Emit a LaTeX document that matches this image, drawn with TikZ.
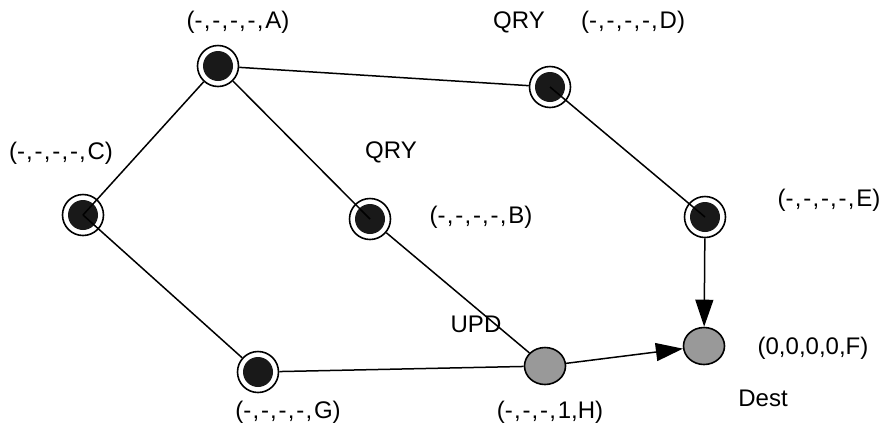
\documentclass[tikz,border=0pt]{standalone}
\usepackage{fontspec}
\setmainfont{Liberation Sans}
\usetikzlibrary{arrows.meta,shapes.geometric}
\newcommand{\dc}{-\kern1.2pt,\kern1.8pt}
\begin{document}
\begin{tikzpicture}[x=1pt,y=-1pt,
  peer/.style={circle,draw,line width=1.6pt,minimum size=41pt,inner sep=0pt,fill=white,
    path picture={\fill[black!90] (path picture bounding box.center) circle (15pt);}},
  dest/.style={ellipse,draw,line width=1.6pt,fill=black!40,minimum width=41pt,minimum height=37pt,inner sep=0pt},
  lbl/.style={font=\fontsize{24}{28}\selectfont,inner sep=0pt},
  edge/.style={line width=1.5pt},
  arr/.style={line width=1.5pt,-{Triangle[length=27pt,width=18pt]}}]
\useasboundingbox (0,0) rectangle (896,432);
% nodes
\node[peer] (A) at (218,66) {};
\node[peer] (D) at (550,87) {};
\node[peer] (C) at (83,215) {};
\node[peer] (B) at (370,219) {};
\node[peer] (E) at (705,217) {};
\node[peer] (G) at (258,372) {};
\node[dest] (H) at (545,366) {};
\node[dest] (F) at (704,346) {};
% edges
\draw[edge] (A) -- (D);
\draw[edge] (A) -- (C.center);
\draw[edge] (A) -- (B.center);
\draw[edge] (B) -- (H);
\draw[edge] (C.center) -- (G);
\draw[edge] (D.center) -- (E.center);
\draw[edge] (G) -- (H);
\draw[arr] (E) -- (F);
\draw[arr] (H) -- (F);
% labels
\node[lbl] (lA) at (238,22) {(\dc\dc\dc\dc A)};
\node[lbl] (q1) at (519,22) {QRY};
\node[lbl] (lD) at (633,22) {(\dc\dc\dc\dc D)};
\node[lbl] (lC) at (61,153) {(\dc\dc\dc\dc C)};
\node[lbl] (q2) at (391,152) {QRY};
\node[lbl] (lB) at (481,217) {(\dc\dc\dc\dc B)};
\node[lbl] (lE) at (829,200) {(\dc\dc\dc\dc E)};
\node[lbl] (up) at (476,324) {UPD};
\node[lbl] (lF) at (813,348) {(0,0,0,0,F)};
\node[lbl] (ds) at (763,398) {Dest};
\node[lbl] (lG) at (288,412) {(\dc\dc\dc\dc G)};
\node[lbl] (lH) at (550,412) {(\dc\dc\dc 1,H)};
\end{tikzpicture}
\end{document}
